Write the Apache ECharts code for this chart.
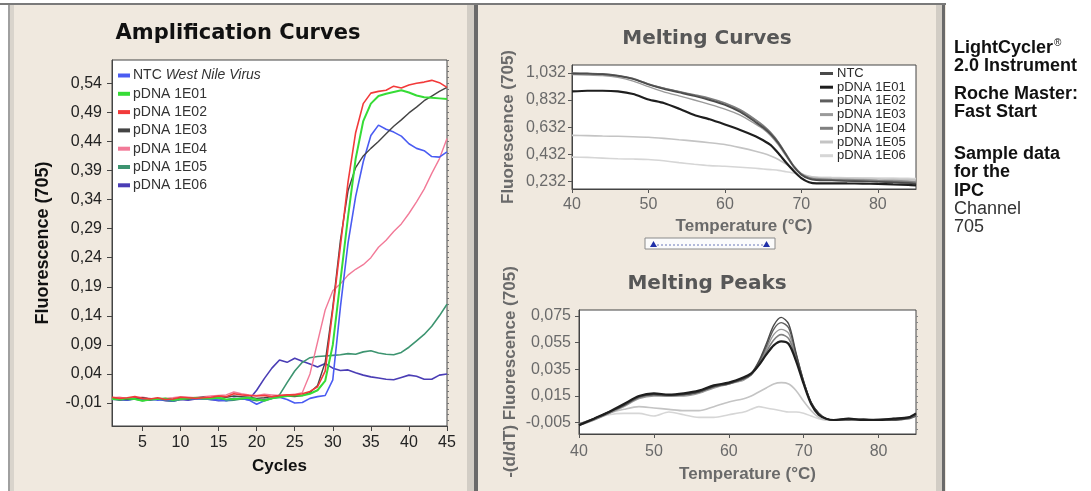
<!DOCTYPE html>
<html><head><meta charset="utf-8">
<script src="https://cdn.jsdelivr.net/npm/echarts@6/dist/echarts.min.js"></script>
<style>html,body{margin:0;padding:0;background:#fff}#c{width:1091px;height:491px}</style>
</head><body><div id="c"></div>
<script>
// ---------- Amplification curves (Cycles vs Fluorescence 705) ----------
const cycles = [1,2,3,4,5,6,7,8,9,10,11,12,13,14,15,16,17,18,19,20,21,22,23,24,25,26,27,28,29,30,31,32,33,34,35,36,37,38,39,40,41,42,43,44,45];
const ampNames = ['NTC West Nile Virus','pDNA 1E01','pDNA 1E02','pDNA 1E03','pDNA 1E04','pDNA 1E05','pDNA 1E06'];
const ampNTC  = [-0.004,-0.003,-0.005,-0.002,-0.004,-0.003,-0.005,-0.004,-0.006,-0.003,-0.004,-0.002,-0.003,-0.004,-0.005,-0.006,-0.003,-0.002,-0.005,-0.012,-0.006,-0.002,0.000,-0.004,-0.010,-0.009,-0.002,0.001,0.003,0.030,0.155,0.265,0.345,0.405,0.450,0.468,0.461,0.456,0.449,0.436,0.428,0.424,0.414,0.413,0.422];
const amp1E01 = [-0.003,-0.004,-0.002,-0.003,-0.006,-0.004,-0.003,-0.002,-0.005,-0.003,-0.002,-0.001,-0.002,-0.002,-0.001,-0.004,-0.003,-0.002,-0.001,-0.004,-0.006,-0.002,0.000,0.002,0.003,0.003,0.006,0.012,0.028,0.090,0.200,0.310,0.410,0.475,0.505,0.518,0.522,0.525,0.528,0.524,0.519,0.516,0.515,0.514,0.513];
const amp1E02 = [0.000,-0.002,-0.001,0.001,-0.002,-0.003,-0.001,-0.004,-0.003,0.000,-0.001,-0.002,-0.001,0.000,0.002,0.001,0.006,0.004,0.003,0.002,0.003,0.001,0.003,0.004,0.004,0.006,0.010,0.018,0.045,0.150,0.260,0.370,0.455,0.505,0.523,0.526,0.528,0.535,0.532,0.537,0.540,0.542,0.545,0.541,0.533];
const amp1E03 = [-0.002,-0.003,-0.004,-0.002,-0.001,-0.003,-0.002,-0.003,-0.004,-0.002,-0.003,-0.001,0.000,-0.002,0.001,0.000,0.002,0.001,0.000,-0.002,-0.001,0.001,0.002,0.002,0.001,0.003,0.008,0.020,0.060,0.155,0.270,0.355,0.395,0.415,0.428,0.440,0.453,0.466,0.477,0.489,0.499,0.510,0.518,0.526,0.533];
const amp1E04 = [-0.001,0.000,-0.002,-0.001,0.000,-0.002,-0.004,-0.002,-0.001,0.001,0.000,-0.001,0.001,0.002,0.003,0.004,0.009,0.006,0.004,0.003,0.005,0.004,0.003,0.004,0.005,0.008,0.040,0.095,0.150,0.183,0.195,0.210,0.220,0.228,0.240,0.258,0.270,0.285,0.298,0.316,0.336,0.358,0.385,0.410,0.445];
const amp1E05 = [-0.002,-0.004,-0.005,-0.003,-0.006,-0.004,-0.003,-0.005,-0.007,-0.004,-0.003,-0.002,-0.003,-0.004,-0.002,-0.006,-0.005,-0.003,-0.004,-0.006,-0.004,-0.002,0.004,0.025,0.045,0.060,0.068,0.070,0.071,0.072,0.073,0.075,0.074,0.078,0.080,0.076,0.074,0.073,0.077,0.086,0.097,0.108,0.122,0.140,0.160];
const amp1E06 = [-0.003,-0.005,-0.004,-0.002,-0.004,-0.005,-0.003,-0.006,-0.007,-0.004,-0.005,-0.003,-0.002,-0.004,-0.006,-0.005,-0.002,-0.003,-0.004,0.012,0.032,0.050,0.064,0.060,0.067,0.062,0.057,0.052,0.058,0.050,0.046,0.047,0.042,0.038,0.035,0.033,0.031,0.030,0.034,0.038,0.036,0.031,0.031,0.038,0.040];
const ampTicksY = [-0.01,0.04,0.09,0.14,0.19,0.24,0.29,0.34,0.39,0.44,0.49,0.54];
const ampTicksX = [5,10,15,20,25,30,35,40,45];

// ---------- Melting curves ----------
const meltNames = ['NTC','pDNA 1E01','pDNA 1E02','pDNA 1E03','pDNA 1E04','pDNA 1E05','pDNA 1E06'];
const meltTemps = [40,42,44,46,48,50,52,54,56,58,60,62,64,65,66,67,68,69,70,71,72,74,76,78,80,82,84,85];
const meltNTC  = [1.025,1.024,1.020,1.008,0.985,0.945,0.912,0.886,0.860,0.830,0.795,0.742,0.668,0.628,0.578,0.512,0.428,0.342,0.282,0.252,0.242,0.240,0.236,0.234,0.230,0.226,0.221,0.216];
const melt1E01 = [0.895,0.900,0.900,0.895,0.876,0.836,0.810,0.768,0.722,0.690,0.652,0.612,0.566,0.536,0.500,0.440,0.372,0.310,0.258,0.228,0.219,0.220,0.219,0.218,0.215,0.212,0.209,0.205];
const melt1E02 = [1.030,1.028,1.025,1.013,0.990,0.950,0.918,0.892,0.866,0.836,0.800,0.750,0.676,0.636,0.586,0.520,0.432,0.346,0.286,0.256,0.246,0.242,0.238,0.236,0.232,0.228,0.224,0.219];
const melt1E03 = [1.018,1.016,1.012,0.998,0.970,0.930,0.892,0.862,0.832,0.800,0.765,0.720,0.655,0.620,0.570,0.502,0.420,0.342,0.288,0.262,0.255,0.250,0.248,0.246,0.243,0.240,0.237,0.234];
const melt1E04 = [1.028,1.026,1.022,1.010,0.988,0.948,0.918,0.894,0.870,0.845,0.810,0.760,0.688,0.645,0.592,0.522,0.435,0.348,0.290,0.260,0.250,0.246,0.244,0.241,0.238,0.234,0.230,0.226];
const melt1E05 = [0.572,0.570,0.567,0.565,0.562,0.558,0.550,0.540,0.530,0.518,0.505,0.482,0.456,0.440,0.420,0.395,0.362,0.326,0.292,0.272,0.262,0.257,0.255,0.253,0.251,0.249,0.247,0.245];
const melt1E06 = [0.412,0.410,0.405,0.400,0.398,0.395,0.385,0.372,0.360,0.350,0.345,0.338,0.330,0.325,0.320,0.315,0.305,0.295,0.281,0.271,0.266,0.263,0.261,0.260,0.259,0.258,0.256,0.255];
const meltTicksY = [0.232,0.432,0.632,0.832,1.032];

// ---------- Melting peaks ----------
const peakTemps = [40,42,44,46,48,50,52,54,56,58,60,62,63,64,65,66,67,68,69,70,71,72,73,74,76,78,80,82,84,85];
const peakNTC  = [-0.007,-0.002,0.003,0.008,0.0145,0.016,0.0155,0.016,0.018,0.022,0.0245,0.028,0.032,0.041,0.054,0.068,0.074,0.069,0.047,0.026,0.010,0.002,-0.002,-0.003,-0.002,-0.003,-0.003,-0.003,-0.001,0.001];
const peak1E01 = [-0.007,-0.002,0.003,0.009,0.015,0.017,0.016,0.017,0.019,0.023,0.025,0.029,0.032,0.038,0.046,0.053,0.056,0.054,0.041,0.024,0.009,0.001,-0.002,-0.003,-0.002,-0.003,-0.003,-0.002,-0.001,0.002];
const peak1E02 = [-0.006,-0.002,0.003,0.008,0.014,0.016,0.016,0.016,0.018,0.022,0.024,0.028,0.031,0.040,0.052,0.065,0.070,0.066,0.046,0.026,0.010,0.002,-0.002,-0.003,-0.003,-0.002,-0.003,-0.003,-0.002,0.000];
const peak1E03 = [-0.006,-0.002,0.002,0.007,0.013,0.015,0.015,0.015,0.017,0.021,0.024,0.027,0.031,0.039,0.050,0.061,0.065,0.062,0.044,0.025,0.009,0.001,-0.002,-0.003,-0.002,-0.003,-0.002,-0.003,-0.002,0.001];
const peak1E04 = [-0.007,-0.003,0.002,0.008,0.014,0.016,0.015,0.016,0.018,0.022,0.025,0.028,0.031,0.038,0.048,0.057,0.061,0.058,0.043,0.025,0.010,0.002,-0.002,-0.003,-0.003,-0.003,-0.003,-0.002,-0.001,0.001];
const peak1E05 = [-0.006,-0.002,0.002,0.005,0.007,0.006,0.005,0.004,0.004,0.007,0.0105,0.013,0.015,0.018,0.021,0.024,0.025,0.024,0.019,0.011,0.004,-0.001,-0.003,-0.003,-0.002,-0.003,-0.003,-0.003,-0.002,0.000];
const peak1E06 = [-0.006,-0.002,0.001,0.002,0.002,0.000,0.003,0.001,-0.001,-0.001,0.001,0.003,0.005,0.007,0.006,0.005,0.004,0.003,0.003,0.002,0.000,-0.002,-0.003,-0.003,-0.003,-0.003,-0.003,-0.003,-0.002,0.000];
const peakTicksY = [-0.005,0.015,0.035,0.055,0.075];

// ---------- styling ----------
const ampColors = ['#4a5cf2','#36dc36','#f23a3a','#444444','#f27a98','#3d9470','#4a3db5'];
const ampWidths = [1.6,2,1.6,1.4,1.4,1.6,1.6];
const meltColors = ['#4a4a4a','#1e1e1e','#5e5e5e','#9a9a9a','#808080','#c4c4c4','#d6d6d6'];
const meltWidths = [1.4,2.2,1.4,1.4,1.6,1.6,1.6];

const ampSeriesData = [ampNTC,amp1E01,amp1E02,amp1E03,amp1E04,amp1E05,amp1E06];
const meltSeriesData = [meltNTC,melt1E01,melt1E02,melt1E03,melt1E04,melt1E05,melt1E06];
const peakSeriesData = [peakNTC,peak1E01,peak1E02,peak1E03,peak1E04,peak1E05,peak1E06];

const ZW = '\u200b';           // keeps melting series names distinct from amplification names
const comma = (v,d) => v.toFixed(d).replace('.', ',');
const minorLeft = []; for (let k=-5;k<=58;k++) minorLeft.push(k/100);
const minorPeak = []; for (let k=-2;k<=15;k++) minorPeak.push(k*0.005);

const series = [];
[6,5,4,0,3,1,2].forEach(i => {
  series.push({type:'line', name:ampNames[i], xAxisIndex:0, yAxisIndex:0, showSymbol:false, silent:true,
    lineStyle:{color:ampColors[i], width:ampWidths[i]}, itemStyle:{color:ampColors[i]},
    data: cycles.map((c,j)=>[c, ampSeriesData[i][j]])});
});
[6,5,3,4,2,0,1].forEach(i => {
  series.push({type:'line', name:meltNames[i]+ZW, xAxisIndex:1, yAxisIndex:2, showSymbol:false, silent:true, smooth:0.2,
    lineStyle:{color:meltColors[i], width:meltWidths[i]}, itemStyle:{color:meltColors[i]},
    data: meltTemps.map((t,j)=>[t, meltSeriesData[i][j]])});
});
[6,5,3,4,2,0,1].forEach(i => {
  series.push({type:'line', name:meltNames[i]+ZW+ZW, xAxisIndex:2, yAxisIndex:3, showSymbol:false, silent:true, smooth:0.3,
    lineStyle:{color:meltColors[i], width:meltWidths[i]}, itemStyle:{color:meltColors[i]},
    data: peakTemps.map((t,j)=>[t, peakSeriesData[i][j]])});
});

const axLine = {show:true, onZero:false, lineStyle:{color:'#444', width:1}};
const bg = '#f0e9df';
const grey = '#6a6a6a';

const rightText = [
  ['{b|LightCycler}{s|®}',48],['{b|2.0 Instrument}',67],['{b|Roche Master:}',95],['{b|Fast Start}',113],
  ['{b|Sample data}',155],['{b|for the}',173],['{b|IPC}',192],['{r|Channel}',210],['{r|705}',228]
];

const graphic = [
  {type:'rect', z:-10, shape:{x:8,y:4,width:938,height:487}, style:{fill:bg}},
  {type:'rect', z:-9, shape:{x:0,y:3,width:946,height:2}, style:{fill:'#7a7a7a'}},
  {type:'rect', z:-9, shape:{x:8,y:5,width:2,height:486}, style:{fill:'#a0a0a0'}},
  {type:'rect', z:-9, shape:{x:10,y:5,width:4,height:486}, style:{fill:'#d9d4cc'}},
  {type:'rect', z:-9, shape:{x:467,y:5,width:7,height:486}, style:{fill:'#d2cdc5'}},
  {type:'rect', z:-9, shape:{x:474,y:5,width:4,height:486}, style:{fill:'#6a6a6a'}},
  {type:'rect', z:-9, shape:{x:936,y:5,width:6,height:486}, style:{fill:'#d2cdc5'}},
  {type:'rect', z:-9, shape:{x:942,y:5,width:3,height:486}, style:{fill:'#6a6a6a'}},
  {type:'rect', shape:{x:645,y:238,width:130,height:11}, style:{fill:'#fbfbfb', stroke:'#8a8a8a', lineWidth:1}},
  {type:'line', shape:{x1:657,y1:245,x2:763,y2:245}, style:{stroke:'#6a78b8', lineWidth:1, lineDash:[2,2]}},
  {type:'polygon', shape:{points:[[650,247],[657,247],[653.5,241]]}, style:{fill:'#1f2fa8'}},
  {type:'polygon', shape:{points:[[763,247],[770,247],[766.5,241]]}, style:{fill:'#1f2fa8'}}
];
rightText.forEach(([t,y]) => graphic.push({type:'text', left:954, top:y-10, style:{
  text:t, rich:{
    b:{fontFamily:'Liberation Sans', fontWeight:'bold', fontSize:18, fill:'#111', lineHeight:20},
    r:{fontFamily:'Liberation Sans', fontSize:18, fill:'#333', lineHeight:20},
    s:{fontFamily:'Liberation Sans', fontSize:10, fill:'#111', lineHeight:20, verticalAlign:'top', padding:[0,0,8,1]}
  }}}));

const option = {
  animation:false,
  backgroundColor:'#ffffff',
  textStyle:{fontFamily:'Liberation Sans'},
  title:[
    {text:'Amplification Curves', left:238, top:23, textAlign:'center', padding:0,
      textStyle:{fontFamily:'DejaVu Sans', fontWeight:'bold', fontSize:21, color:'#111'}},
    {text:'Melting Curves', left:707, top:29, textAlign:'center', padding:0,
      textStyle:{fontFamily:'DejaVu Sans', fontWeight:'bold', fontSize:20, color:'#575757'}},
    {text:'Melting Peaks', left:707, top:274, textAlign:'center', padding:0,
      textStyle:{fontFamily:'DejaVu Sans', fontWeight:'bold', fontSize:20, color:'#575757'}}
  ],
  legend:[
    {data:ampNames, orient:'vertical', left:118, top:68, icon:'rect', itemWidth:12, itemHeight:4, itemGap:3.3, padding:0,
      selectedMode:false,
      formatter: n => n === 'NTC West Nile Virus' ? 'NTC {i|West Nile Virus}' : n,
      textStyle:{fontFamily:'Liberation Sans', fontSize:14, color:'#333', lineHeight:15, padding:[0,0,0,-2],
        rich:{i:{fontFamily:'Liberation Sans', fontSize:14, fontStyle:'italic', color:'#333', lineHeight:15}}}},
    {data:meltNames.map(n => n+ZW), orient:'vertical', left:820, top:67, icon:'rect', itemWidth:13, itemHeight:3, itemGap:0.7, padding:0,
      selectedMode:false,
      formatter: n => n.replace(/\u200b/g,''),
      textStyle:{fontFamily:'Liberation Sans', fontSize:13, color:'#2a2a2a', lineHeight:11, padding:[0,0,0,-1]}}
  ],
  grid:[
    {left:112, top:60, width:335, height:366, show:true, backgroundColor:'#fff', borderColor:'#444', borderWidth:1},
    {left:572, top:65, width:344, height:124, show:true, backgroundColor:'#fff', borderColor:'#444', borderWidth:1},
    {left:579, top:310, width:337, height:124, show:true, backgroundColor:'#fff', borderColor:'#444', borderWidth:1}
  ],
  xAxis:[
    {type:'value', gridIndex:0, min:1, max:45, axisLine:axLine, splitLine:{show:false},
      axisTick:{show:true, length:5, customValues:ampTicksX, lineStyle:{color:'#444'}},
      axisLabel:{customValues:ampTicksX, fontSize:16, color:'#222', margin:9},
      name:'Cycles', nameLocation:'middle', nameGap:32,
      nameTextStyle:{fontFamily:'Liberation Sans', fontWeight:'bold', fontSize:17, color:'#111'}},
    {type:'value', gridIndex:1, min:40, max:85, interval:10, axisLine:axLine, splitLine:{show:false},
      axisTick:{show:true, length:4, lineStyle:{color:'#555'}},
      axisLabel:{fontSize:16, color:grey, margin:8, showMaxLabel:false},
      name:'Temperature (°C)', nameLocation:'middle', nameGap:29,
      nameTextStyle:{fontFamily:'Liberation Sans', fontWeight:'bold', fontSize:17, color:grey}},
    {type:'value', gridIndex:2, min:40, max:85, interval:10, axisLine:axLine, splitLine:{show:false},
      axisTick:{show:true, length:4, lineStyle:{color:'#555'}},
      axisLabel:{fontSize:16, color:grey, margin:10, showMaxLabel:false},
      name:'Temperature (°C)', nameLocation:'middle', nameGap:32,
      nameTextStyle:{fontFamily:'Liberation Sans', fontWeight:'bold', fontSize:17, color:grey}}
  ],
  yAxis:[
    {type:'value', gridIndex:0, min:-0.0495, max:0.58, axisLine:axLine, splitLine:{show:false},
      axisTick:{show:true, length:5, customValues:ampTicksY, lineStyle:{color:'#444'}},
      axisLabel:{customValues:ampTicksY, fontSize:16, color:'#222', margin:10, formatter:v=>comma(v,2)},
      name:'Fluorescence (705)', nameLocation:'middle', nameGap:60,
      nameTextStyle:{fontFamily:'Liberation Sans', fontWeight:'bold', fontSize:18, color:'#111'}},
    {type:'value', gridIndex:0, min:-0.0495, max:0.58, axisLine:{show:false, onZero:false}, splitLine:{show:false},
      axisTick:{show:true, length:2, customValues:minorLeft, lineStyle:{color:'#777'}},
      axisLabel:{show:false, customValues:minorLeft}},
    {type:'value', gridIndex:1, min:0.178, max:1.089, axisLine:axLine, splitLine:{show:false},
      axisTick:{show:true, length:4, customValues:meltTicksY, lineStyle:{color:'#555'}},
      axisLabel:{customValues:meltTicksY, fontSize:16, color:grey, margin:6, formatter:v=>comma(v,3)},
      name:'Fluorescence (705)', nameLocation:'middle', nameGap:55,
      nameTextStyle:{fontFamily:'Liberation Sans', fontWeight:'bold', fontSize:17, color:grey}},
    {type:'value', gridIndex:2, min:-0.0135, max:0.0795, axisLine:axLine, splitLine:{show:false},
      axisTick:{show:true, length:4, customValues:peakTicksY, lineStyle:{color:'#555'}},
      axisLabel:{customValues:peakTicksY, fontSize:16, color:grey, margin:8, formatter:v=>comma(v,3)},
      name:'-(d/dT) Fluorescence (705)', nameLocation:'middle', nameGap:60,
      nameTextStyle:{fontFamily:'Liberation Sans', fontWeight:'bold', fontSize:17, color:grey}},
    {type:'value', gridIndex:2, min:-0.0135, max:0.0795, axisLine:{show:false, onZero:false}, splitLine:{show:false},
      axisTick:{show:true, length:2, customValues:minorPeak, lineStyle:{color:'#888'}},
      axisLabel:{show:false, customValues:minorPeak}}
  ],
  graphic: graphic,
  series: series
};
const chart = echarts.init(document.getElementById('c'), null, {renderer:'canvas'});
chart.setOption(option);
</script></body></html>
